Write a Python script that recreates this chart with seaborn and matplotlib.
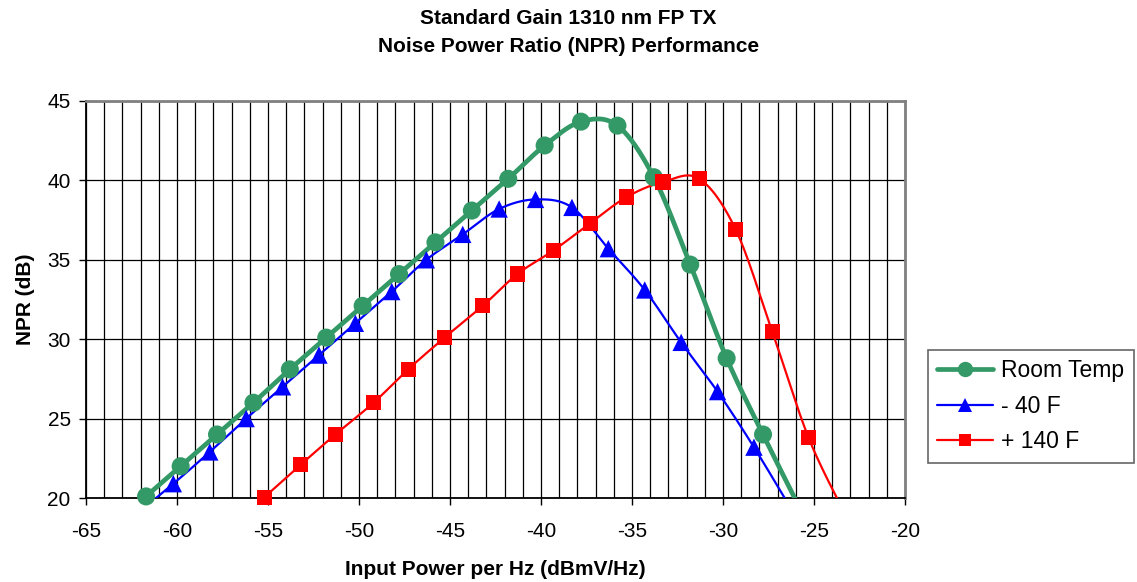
import numpy as np
import pandas as pd
import seaborn as sns
import matplotlib.pyplot as plt
from matplotlib.lines import Line2D
from matplotlib.ticker import MultipleLocator

# values
room_x = [-63.7, -61.7, -59.8, -57.8, -55.8, -53.8, -51.8, -49.8, -47.8, -45.8,
          -43.8, -41.8, -39.8, -37.8, -35.8, -33.8, -31.8, -29.8, -27.8, -25.8]
room_y = [18.0, 20.1, 22.0, 24.0, 26.0, 28.1, 30.1, 32.1, 34.1, 36.1,
          38.1, 40.1, 42.2, 43.7, 43.45, 40.2, 34.7, 28.8, 24.0, 19.4]

cold_x = [-62.2, -60.2, -58.2, -56.2, -54.2, -52.2, -50.2, -48.2, -46.3, -44.3,
          -42.3, -40.3, -38.3, -36.3, -34.3, -32.3, -30.3, -28.3, -26.3]
cold_y = [19.0, 20.9, 22.9, 25.0, 27.0, 29.0, 31.0, 33.0, 35.0, 36.6,
          38.2, 38.8, 38.3, 35.7, 33.1, 29.8, 26.7, 23.2, 19.4]

hot_x = [-55.2, -53.2, -51.3, -49.2, -47.3, -45.3, -43.2, -41.3, -39.3, -37.3,
         -35.3, -33.3, -31.3, -29.3, -27.3, -25.3, -23.3]
hot_y = [20.05, 22.1, 24.0, 26.0, 28.1, 30.1, 32.1, 34.1, 35.6, 37.3,
         38.95, 39.9, 40.1, 36.9, 30.5, 23.8, 19.0]

labels = ['Room Temp', '- 40 F', '+ 140 F']
colors = ['#339966', '#0000FF', '#FF0000']
markers = ['o', '^', 's']


def smooth(xs, ys, n=30):
    # excel-style smoothed line (catmull-rom bezier) for drawing only
    p = np.column_stack([xs, ys])
    pts = [p[0]] + list(p) + [p[-1]]
    out = []
    t = np.linspace(0, 1, n)[:, None]
    for i in range(1, len(pts) - 2):
        p0, p1, p2, p3 = pts[i - 1], pts[i], pts[i + 1], pts[i + 2]
        c1 = p1 + (p2 - p0) / 6
        c2 = p2 - (p3 - p1) / 6
        seg = ((1 - t) ** 3) * p1 + 3 * ((1 - t) ** 2) * t * c1 + 3 * (1 - t) * t ** 2 * c2 + t ** 3 * p2
        out.append(seg)
    out = np.vstack(out)
    return pd.DataFrame({'x': out[:, 0], 'y': out[:, 1]})


sns.set_style('white')
plt.rcParams['font.family'] = ['Liberation Sans', 'DejaVu Sans']
plt.rcParams['axes.unicode_minus'] = False
plt.rcParams['text.color'] = 'black'
plt.rcParams['axes.labelcolor'] = 'black'
plt.rcParams['xtick.color'] = 'black'
plt.rcParams['ytick.color'] = 'black'

fig = plt.figure(figsize=(11.37, 5.82), dpi=100)
ax = fig.add_axes([86 / 1137, 1 - 498 / 582, (905 - 86) / 1137, (498 - 101) / 582])

series = [(room_x, room_y, 3.4, 13), (cold_x, cold_y, 1.6, 12.5), (hot_x, hot_y, 1.6, 11)]
handles = []
for (xs, ys, lw, ms), lab, c, m in zip(series, labels, colors, markers):
    curve = smooth(xs, ys)
    sns.lineplot(data=curve, x='x', y='y', sort=False, estimator=None,
                 color=c, lw=lw, ax=ax, zorder=3)
    pts = pd.DataFrame({'x': xs, 'y': ys})
    pts = pts[pts['y'] >= 19.99]
    sns.scatterplot(data=pts, x='x', y='y', marker=m, s=ms ** 2, color=c,
                    edgecolor='none', linewidth=0, ax=ax, zorder=4, clip_on=False)
    handles.append(Line2D([], [], color=c, lw=lw, marker=m, markersize=ms * 0.85,
                          markeredgewidth=0))

ax.set_xlim(-65, -20)
ax.set_ylim(20, 45)
ax.xaxis.set_major_locator(MultipleLocator(5))
ax.xaxis.set_minor_locator(MultipleLocator(1))
ax.yaxis.set_major_locator(MultipleLocator(5))
ax.grid(which='minor', axis='x', color='black', lw=0.9)
ax.grid(which='major', axis='x', color='black', lw=0.9)
ax.grid(which='major', axis='y', color='black', lw=0.9)
ax.set_axisbelow(True)
ax.tick_params(axis='both', which='major', direction='out', length=5, width=1,
               color='black', labelsize=15, bottom=True, left=True)
ax.tick_params(axis='x', which='major', pad=12)
ax.tick_params(axis='y', which='major', pad=6)
ax.tick_params(axis='x', which='minor', length=0)
for s in ['left', 'bottom']:
    ax.spines[s].set_color('black')
    ax.spines[s].set_linewidth(1.3)
for s in ['top', 'right']:
    ax.spines[s].set_color('#808080')
    ax.spines[s].set_linewidth(2)

ax.set_xlabel('Input Power per Hz (dBmV/Hz)', fontsize=15, fontweight='bold', labelpad=14)
ax.set_ylabel('NPR (dB)', fontsize=15, fontweight='bold', labelpad=9)

fig.text(0.5, 1 - 18 / 582, 'Standard Gain 1310 nm FP TX', ha='center', va='center',
         fontsize=15, fontweight='bold')
fig.text(0.5, 1 - 46 / 582, 'Noise Power Ratio (NPR) Performance', ha='center', va='center',
         fontsize=15, fontweight='bold')

leg = fig.legend(handles, labels, loc='upper left', bbox_to_anchor=(928 / 1137, 1 - 350 / 582),
                 fontsize=16.5, frameon=True, fancybox=False, handlelength=2.45,
                 numpoints=1, borderpad=0.4, labelspacing=0.55, handletextpad=0.35,
                 borderaxespad=0)
leg.get_frame().set_edgecolor('#404040')
leg.get_frame().set_linewidth(1.2)

fig.savefig('out.png', dpi=100)
